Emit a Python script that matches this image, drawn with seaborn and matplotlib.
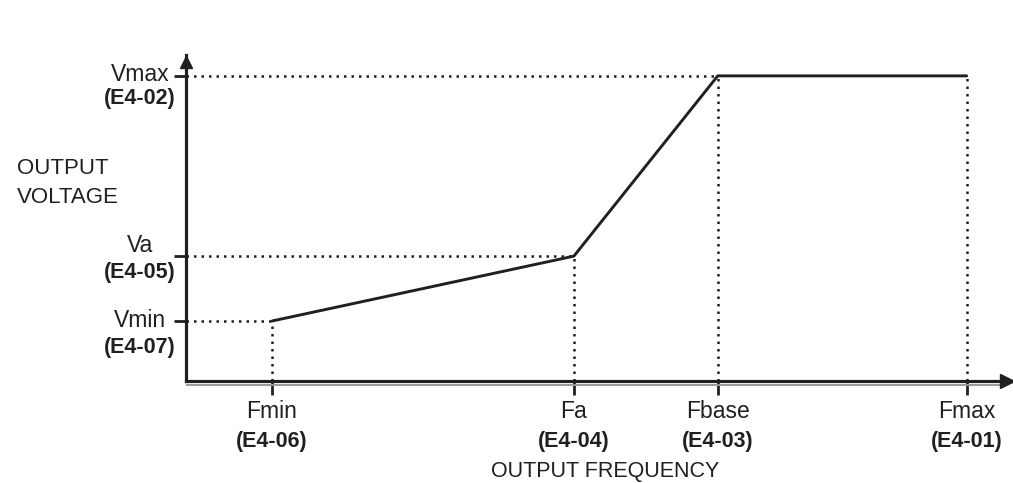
import matplotlib
matplotlib.use("Agg")
import matplotlib.pyplot as plt
import seaborn as sns

# values (arbitrary units, 0-100 on both axes)
freq_names = ["Fmin", "Fa", "Fbase", "Fmax"]
freq_params = ["(E4-06)", "(E4-04)", "(E4-03)", "(E4-01)"]
freq_values = [10.4, 46.9, 64.3, 94.4]

volt_names = ["Vmin", "Va", "Vmax"]
volt_params = ["(E4-07)", "(E4-05)", "(E4-02)"]
volt_values = [18.4, 38.3, 93.6]

# V/f curve: Fmin->Vmin, Fa->Va, Fbase->Vmax, Fmax->Vmax
curve_volts = [volt_values[0], volt_values[1], volt_values[2], volt_values[2]]

sns.set_style("white")
plt.rcParams["font.family"] = ["Liberation Sans", "DejaVu Sans"]

ink = "#231f20"
W, H = 1013, 483
fig = plt.figure(figsize=(W / 100, H / 100), dpi=100)
ax = fig.add_axes([186 / W, (H - 381) / H, (W - 186) / W, (381 - 55) / H])
ax.set_xlim(0, 100)
ax.set_ylim(0, 100)

# axis frame
for side in ["top", "right"]:
    ax.spines[side].set_visible(False)
for side in ["left", "bottom"]:
    ax.spines[side].set_linewidth(2.3)
    ax.spines[side].set_color(ink)
# thin grey second line under the frequency axis
ax.plot([0, 0.985], [-4 / 326, -4 / 326], transform=ax.transAxes,
        color="#9a9a9a", lw=1.4, clip_on=False, solid_capstyle="butt")
# arrow heads
ax.plot(1 - 6 / 827, 0, marker=">", ms=10, color=ink,
        transform=ax.transAxes, clip_on=False)
ax.plot(0, 1 - 7 / 326, marker="^", ms=9, color=ink,
        transform=ax.transAxes, clip_on=False)

# ticks without labels (labels drawn below with mixed weights)
ax.set_xticks(freq_values)
ax.set_yticks(volt_values)
ax.set_xticklabels([])
ax.set_yticklabels([])
ax.tick_params(axis="x", direction="out", length=10, width=2, color=ink,
               bottom=True)
ax.tick_params(axis="y", direction="out", length=8.5, width=2, color=ink,
               left=True)

# dotted guide lines
dot = (0, (1, 2))
ax.hlines(volt_values[0], 0, freq_values[0], colors=ink, lw=1.8, linestyles=[dot])
ax.hlines(volt_values[1], 0, freq_values[1], colors=ink, lw=1.8, linestyles=[dot])
ax.hlines(volt_values[2], 0, freq_values[2], colors=ink, lw=1.8, linestyles=[dot])
ax.vlines(freq_values, 0, curve_volts, colors=ink, lw=1.8, linestyles=[dot])

# the V/f pattern
sns.lineplot(x=freq_values, y=curve_volts, sort=False, color=ink, lw=2.1,
             ax=ax)

# frequency labels
for f, name, par in zip(freq_values, freq_names, freq_params):
    ax.annotate(name, xy=(f, 0), xytext=(0, -31), textcoords="offset pixels",
                ha="center", va="center", fontsize=16.5, color=ink)
    ax.annotate(par, xy=(f, 0), xytext=(0, -60), textcoords="offset pixels",
                ha="center", va="center", fontsize=15.5, fontweight="bold",
                color=ink)

# voltage labels
name_dy = [1, 11, 1]
par_dy = [-26, -16, -23]
for v, name, par, d1, d2 in zip(volt_values, volt_names, volt_params,
                                name_dy, par_dy):
    ax.annotate(name, xy=(0, v), xytext=(-46, d1), textcoords="offset pixels",
                ha="center", va="center", fontsize=16.5, color=ink)
    ax.annotate(par, xy=(0, v), xytext=(-46, d2), textcoords="offset pixels",
                ha="center", va="center", fontsize=15.5, fontweight="bold",
                color=ink)

# axis titles
fig.text(17 / W, 1 - 169 / H, "OUTPUT", ha="left", va="center",
         fontsize=16, color=ink)
fig.text(17 / W, 1 - 197 / H, "VOLTAGE", ha="left", va="center",
         fontsize=16, color=ink)
fig.text(605 / W, 1 - 472 / H, "OUTPUT FREQUENCY", ha="center", va="center",
         fontsize=15.5, color=ink)

fig.savefig("out.png", dpi=100)
plt.close(fig)
